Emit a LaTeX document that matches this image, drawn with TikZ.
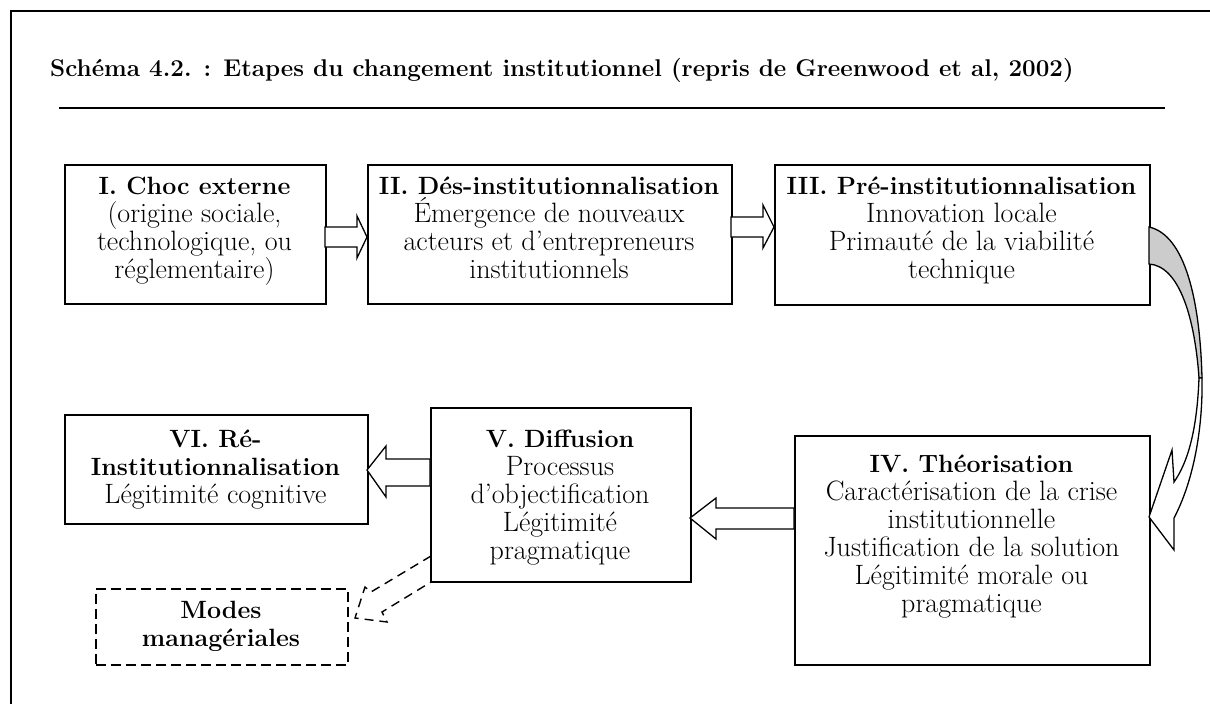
\documentclass[tikz,border=0pt]{standalone}
\usetikzlibrary{calc}
\begin{document}
\begin{tikzpicture}[x=1pt,y=-1pt,
  box/.style={draw, line width=1.5pt, inner sep=0pt, anchor=north west},
  dbox/.style={draw, line width=1.5pt, inner sep=0pt, anchor=north west, dash pattern=on 10pt off 5pt},
  txt/.style={align=center, inner sep=0pt, anchor=north, font=\fontsize{28}{28}\selectfont},
  blockarrow/.style={draw, line width=1.3pt, fill=white, line join=miter},
  dasharrow/.style={draw, line width=1.4pt, dash pattern=on 9pt off 6pt},
]
\newcommand{\hb}[1]{{\fontsize{25}{28}\selectfont\bfseries #1}}
\useasboundingbox (0,0) rectangle (1210,704);
% frame
\draw[line width=1.6pt] (11,704) -- (11,11) -- (1212,11);
% title
\node[anchor=base west, inner sep=0pt, font=\fontsize{24.2}{28}\selectfont\bfseries] (title) at (50,76)
  {Schéma 4.2. : Etapes du changement institutionnel (repris de Greenwood et al, 2002)};
\draw[line width=1.5pt] (59,108) -- (1165,108);
% boxes
\node[box, minimum width=261pt, minimum height=139pt] (b1) at (64,164) {};
\node[box, minimum width=364pt, minimum height=139pt] (b2) at (367,164) {};
\node[box, minimum width=375pt, minimum height=140pt] (b3) at (774,164) {};
\node[box, minimum width=303pt, minimum height=109pt] (b6) at (64,414) {};
\node[box, minimum width=260pt, minimum height=174pt] (b5) at (430,407) {};
\node[box, minimum width=355pt, minimum height=229pt] (b4) at (794,435) {};
\node[dbox, minimum width=252pt, minimum height=76pt] (b7) at (95,588) {};
% texts
\node[txt] (t1) at (194.5,177) {\hb{I. Choc externe}\\(origine sociale,\\technologique, ou\\réglementaire)};
\node[txt] (t2) at (549,177) {\hb{II. Dés-institutionnalisation}\\Émergence de nouveaux\\acteurs et d’entrepreneurs\\institutionnels};
\node[txt] (t3) at (961.5,177) {\hb{III. Pré-institutionnalisation}\\Innovation locale\\Primauté de la viabilité\\technique};
\node[txt] (t6) at (215.5,430) {\hb{VI. Ré-}\\\hb{Institutionnalisation}\\Légitimité cognitive};
\node[txt] (t5) at (560,430) {\hb{V. Diffusion}\\Processus\\d’objectification\\Légitimité\\pragmatique};
\node[txt] (t4) at (971.5,455) {\hb{IV. Théorisation}\\Caractérisation de la crise\\institutionnelle\\Justification\ de la solution\\Légitimité morale ou\\pragmatique};
\node[txt] (t7) at (221,601) {\hb{Modes}\\\hb{managériales}};
% block arrows
\draw[blockarrow] (325,227) -- (357,227) -- (357,216) -- (367,237) -- (357,258) -- (357,247) -- (325,247) -- cycle;
\draw[blockarrow] (731,217) -- (763,217) -- (763,205) -- (774,227) -- (763,248) -- (763,237) -- (731,237) -- cycle;
\draw[blockarrow] (794,508) -- (716,508) -- (716,498) -- (690,518) -- (716,539) -- (716,529) -- (794,529) -- cycle;
\draw[blockarrow] (430,459) -- (386,459) -- (386,446) -- (367,470) -- (386,497) -- (386,486) -- (430,486) -- cycle;
% dashed arrow V -> modes
\draw[dasharrow, line join=miter] (431,556) -- (371,592) -- (365,587) -- (355,618) -- (387,622) -- (382,612) -- (431,582);
% curved arrow III -> IV
\draw[line width=1.3pt, fill=black!20] (1149,227) .. controls (1185,235) and (1200,300) .. (1202,378)
  -- (1199,378) .. controls (1195,320) and (1180,266) .. (1149,264) -- cycle;
\draw[line width=1.3pt, fill=white, line join=miter] (1199,378) .. controls (1197,430) and (1188,462) .. (1174,482)
  -- (1172,450) -- (1149,517) -- (1174,550) -- (1174,518)
  .. controls (1193,482) and (1203,430) .. (1202,378) -- cycle;
\end{tikzpicture}
\end{document}
